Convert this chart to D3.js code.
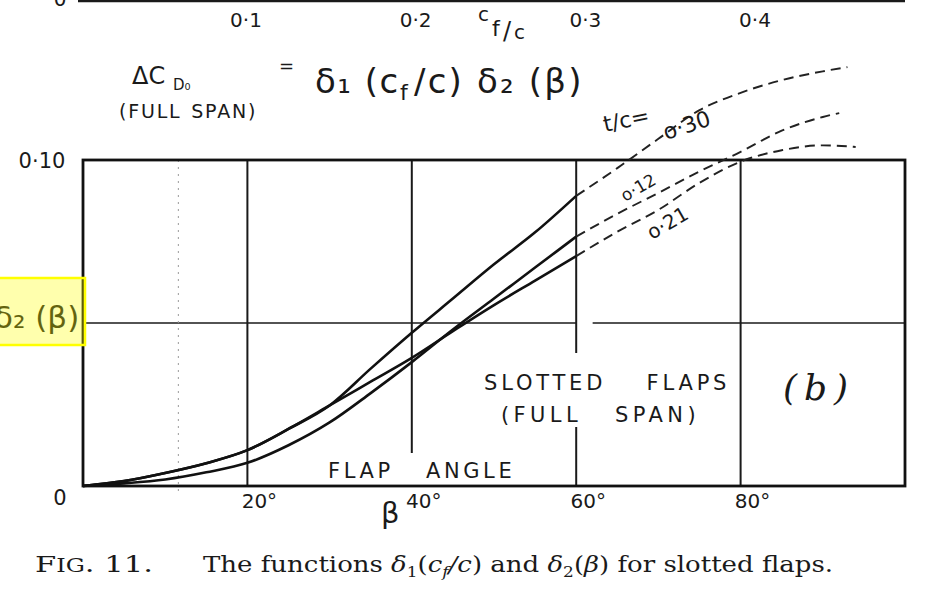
<!DOCTYPE html>
<html>
<head>
<meta charset="utf-8">
<script src="https://cdn.jsdelivr.net/npm/d3@7"></script>
<style>
  html, body { margin: 0; padding: 0; background: #fff; }
  svg { display: block; }
  .let { font-family: "DejaVu Sans", sans-serif; fill: #1a1a1a; }
  .serif { font-family: "DejaVu Serif", "Liberation Serif", serif; fill: #1a1a1a; }
</style>
</head>
<body>
<svg id="chart" width="934" height="602"></svg>
<script>
// ---------------- data ----------------
const betaSolid   = [0, 5, 10, 15, 20, 25, 30, 35, 40, 45, 50, 55, 60];
const tc030Solid  = [0, 0.0015, 0.004, 0.007, 0.011, 0.0175, 0.0247, 0.036, 0.047, 0.0575, 0.068, 0.0778, 0.089];
const tc021Solid  = [0, 0.0015, 0.004, 0.007, 0.011, 0.0175, 0.0247, 0.032, 0.0393, 0.0475, 0.0555, 0.063, 0.0705];
const tc012Solid  = [0, 0.0008, 0.002, 0.0042, 0.0071, 0.0125, 0.0195, 0.0285, 0.038, 0.048, 0.0575, 0.067, 0.0765];

const betaDash030 = [60, 65, 70, 75, 80, 85, 90, 93];
const tc030Dash   = [0.089, 0.0975, 0.1065, 0.1153, 0.1206, 0.1245, 0.1272, 0.1285];
const betaDash012 = [60, 65, 70, 75, 80, 85, 90, 92];
const tc012Dash   = [0.0765, 0.0835, 0.0899, 0.0965, 0.1025, 0.109, 0.1132, 0.1144];
const betaDash021 = [60, 65, 70, 75, 80, 85, 90, 94];
const tc021Dash   = [0.0705, 0.078, 0.0847, 0.093, 0.0995, 0.103, 0.1045, 0.104];

const betaTicks   = [20, 40, 60, 80];
const betaTickLabels = ["20°", "40°", "60°", "80°"];
const yTicks      = [0, 0.10];
const yTickLabels = ["0", "0·10"];
const cfTicks     = [0.1, 0.2, 0.3, 0.4];
const cfTickLabels = ["0·1", "0·2", "0·3", "0·4"];
const faintBeta   = [11.6];

// ---------------- scales ----------------
const svg = d3.select("#chart");
const x = d3.scaleLinear().domain([0, 100]).range([83, 905]);
const y = d3.scaleLinear().domain([0, 0.10]).range([486, 160]);
const xTop = d3.scaleLinear().domain([0.1, 0.4]).range([246, 755]);

svg.append("rect").attr("width", 934).attr("height", 602).attr("fill", "#fff");

// ---------------- upper chart remnant ----------------
svg.append("line").attr("x1", 78).attr("x2", 905).attr("y1", 1).attr("y2", 1)
  .attr("stroke", "#1a1a1a").attr("stroke-width", 2.5);
svg.append("text").attr("class", "let").attr("x", 60).attr("y", 6)
  .attr("text-anchor", "middle").attr("font-size", 20).text("0");
svg.selectAll(".cftick").data(cfTicks).enter().append("text")
  .attr("class", "let cftick").attr("x", d => xTop(d)).attr("y", 27)
  .attr("text-anchor", "middle").attr("font-size", 20)
  .text((d, i) => cfTickLabels[i]);
const cfl = svg.append("g").attr("class", "let").attr("font-size", 20);
cfl.append("text").attr("x", 478).attr("y", 21).text("c");
cfl.append("text").attr("x", 492).attr("y", 36).attr("font-size", 22).text("f");
cfl.append("text").attr("x", 503).attr("y", 39).attr("font-size", 24).text("/");
cfl.append("text").attr("x", 514).attr("y", 39).text("c");

// ---------------- formula ----------------
const fg = svg.append("g").attr("class", "let");
fg.append("text").attr("x", 132).attr("y", 84).attr("font-size", 24).text("ΔC");
fg.append("text").attr("x", 173).attr("y", 90).attr("font-size", 15).text("D₀");
fg.append("text").attr("x", 119).attr("y", 118).attr("font-size", 19).attr("letter-spacing", 1.8).attr("word-spacing", 2).text("(FULL SPAN)");
fg.append("text").attr("x", 279).attr("y", 72).attr("font-size", 18).text("=");
fg.append("text").attr("x", 315).attr("y", 93).attr("font-size", 34).attr("letter-spacing", 1.5).text("δ₁ (c");
fg.append("text").attr("x", 400).attr("y", 100).attr("font-size", 22).text("f");
fg.append("text").attr("x", 414).attr("y", 93).attr("font-size", 34).attr("letter-spacing", 2.2).text("/c) δ₂ (β)");

// ---------------- grid ----------------
const gridColor = "#1a1a1a";
const gridV = [
  {b: 20, v0: 0, v1: 0.10},
  {b: 40, v0: 0.0101, v1: 0.10},
  {b: 60, v0: 0, v1: 0.0181},
  {b: 60, v0: 0.0408, v1: 0.10},
  {b: 80, v0: 0, v1: 0.10}
];
svg.selectAll(".gv").data(gridV).enter().append("line")
  .attr("x1", d => x(d.b)).attr("x2", d => x(d.b))
  .attr("y1", d => y(d.v0)).attr("y2", d => y(d.v1))
  .attr("stroke", gridColor).attr("stroke-width", 2);
const gridH = [{v: 0.05, b0: 0, b1: 60.1}, {v: 0.05, b0: 62, b1: 100}];
svg.selectAll(".gh").data(gridH).enter().append("line")
  .attr("x1", d => x(d.b0)).attr("x2", d => x(d.b1))
  .attr("y1", d => y(d.v)).attr("y2", d => y(d.v))
  .attr("stroke", gridColor).attr("stroke-width", 1.6);
svg.selectAll(".gf").data(faintBeta).enter().append("line")
  .attr("x1", d => x(d)).attr("x2", d => x(d))
  .attr("y1", y(0.10)).attr("y2", y(0) + 6)
  .attr("stroke", "#9a9a9a").attr("stroke-width", 1).attr("stroke-dasharray", "2,5");

// frame
svg.append("rect").attr("x", x(0)).attr("y", y(0.10))
  .attr("width", x(100) - x(0)).attr("height", y(0) - y(0.10))
  .attr("fill", "none").attr("stroke", "#111").attr("stroke-width", 2.8);

// ---------------- curves ----------------
const line = d3.line().x(d => x(d[0])).y(d => y(d[1])).curve(d3.curveMonotoneX);
const zip = (a, b) => a.map((v, i) => [v, b[i]]);
const solids = [zip(betaSolid, tc030Solid), zip(betaSolid, tc021Solid), zip(betaSolid, tc012Solid)];
const dashes = [zip(betaDash030, tc030Dash), zip(betaDash021, tc021Dash), zip(betaDash012, tc012Dash)];
svg.selectAll(".cs").data(solids).enter().append("path")
  .attr("d", line).attr("fill", "none").attr("stroke", "#111").attr("stroke-width", 2.6);
svg.selectAll(".cd").data(dashes).enter().append("path")
  .attr("d", line).attr("fill", "none").attr("stroke", "#222").attr("stroke-width", 1.9)
  .attr("stroke-dasharray", "10,6");

// ---------------- curve labels ----------------
const lab = svg.append("g").attr("class", "let");
lab.append("text").attr("transform", "translate(605,132) rotate(-12)").attr("font-size", 22).text("t/c=");
lab.append("text").attr("transform", "translate(666,140) rotate(-18)").attr("font-size", 22).text("o·30");
lab.append("text").attr("transform", "translate(625,202) rotate(-30)").attr("font-size", 17).text("o·12");
lab.append("text").attr("transform", "translate(652,240) rotate(-30)").attr("font-size", 20).text("o·21");

// ---------------- axes labels ----------------
svg.selectAll(".bt").data(betaTicks).enter().append("text")
  .attr("class", "let bt").attr("x", d => x(d) + 12).attr("y", 508)
  .attr("text-anchor", "middle").attr("font-size", 20)
  .text((d, i) => betaTickLabels[i]);
svg.selectAll(".yt").data(yTicks).enter().append("text")
  .attr("class", "let yt").attr("x", (d, i) => i === 0 ? 60 : 42).attr("y", d => y(d) + (d === 0 ? 19 : 8))
  .attr("text-anchor", "middle").attr("font-size", 21)
  .text((d, i) => yTickLabels[i]);
svg.append("text").attr("class", "let").attr("x", 381).attr("y", 523).attr("font-size", 29).text("β");

const tg = svg.append("g").attr("class", "let");
tg.append("text").attr("x", 328).attr("y", 478).attr("font-size", 21).attr("letter-spacing", 3.6).attr("word-spacing", 22).text("FLAP ANGLE");
tg.append("text").attr("x", 484).attr("y", 390).attr("font-size", 21).attr("letter-spacing", 3.8).attr("word-spacing", 30).text("SLOTTED FLAPS");
tg.append("text").attr("x", 501).attr("y", 422).attr("font-size", 21).attr("letter-spacing", 4.4).attr("word-spacing", 22).text("(FULL SPAN)");
svg.append("text").attr("class", "serif").attr("x", 783).attr("y", 400)
  .attr("font-size", 36).attr("font-style", "italic").attr("letter-spacing", 7).text("(b)");

// ---------------- highlighted y label ----------------
svg.append("text").attr("class", "let").attr("x", -6).attr("y", 328).attr("font-size", 31).text("δ₂ (β)");
svg.append("rect").attr("x", -3).attr("y", 278).attr("width", 88).attr("height", 67)
  .attr("fill", "rgba(255,255,0,0.32)").attr("stroke", "#ffff00").attr("stroke-width", 2.5);

// ---------------- caption ----------------
const cap = svg.append("text").attr("class", "serif").attr("x", 35).attr("y", 572).attr("font-size", 23)
  .attr("textLength", 118).attr("lengthAdjust", "spacingAndGlyphs");
cap.append("tspan").text("F");
cap.append("tspan").attr("font-size", 18).text("IG");
cap.append("tspan").text(". 11.");
const cap2 = svg.append("text").attr("class", "serif").attr("x", 203).attr("y", 572).attr("font-size", 23)
  .attr("textLength", 630).attr("lengthAdjust", "spacingAndGlyphs");
cap2.append("tspan").text("The functions ");
cap2.append("tspan").attr("font-style", "italic").text("δ");
cap2.append("tspan").attr("font-size", 15).attr("dy", 5).text("1");
cap2.append("tspan").attr("dy", -5).text("(");
cap2.append("tspan").attr("font-style", "italic").text("c");
cap2.append("tspan").attr("font-style", "italic").attr("font-size", 15).attr("dy", 5).text("f");
cap2.append("tspan").attr("dy", -5).attr("font-style", "italic").text("/c");
cap2.append("tspan").text(") and ");
cap2.append("tspan").attr("font-style", "italic").text("δ");
cap2.append("tspan").attr("font-size", 15).attr("dy", 5).text("2");
cap2.append("tspan").attr("dy", -5).text("(");
cap2.append("tspan").attr("font-style", "italic").text("β");
cap2.append("tspan").text(") for slotted flaps.");
</script>
</body>
</html>
